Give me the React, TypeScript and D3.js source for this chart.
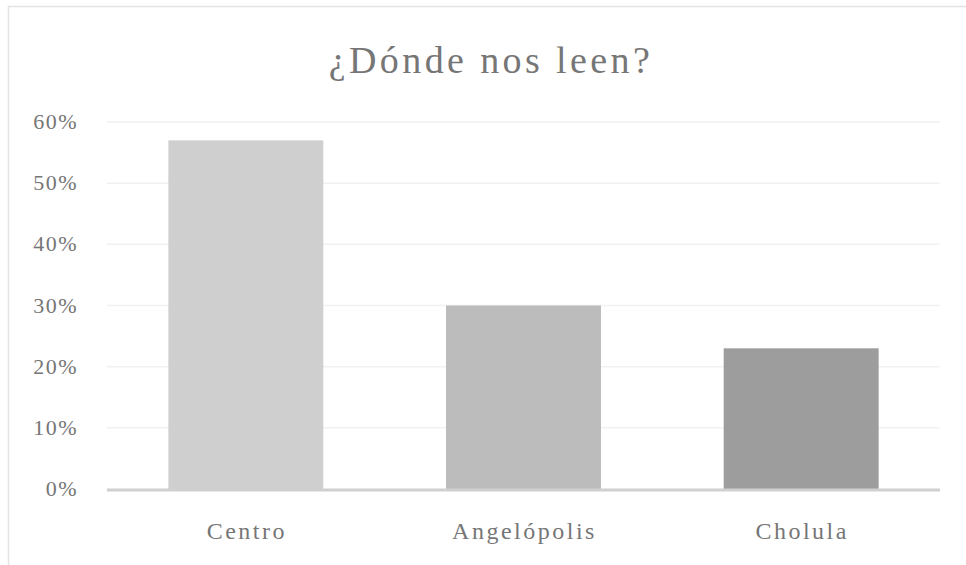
import * as d3 from "d3";
import {useEffect, useRef} from "react";

const WIDTH = 966;
const HEIGHT = 565;
const MARGIN = {top: 122, right: 26, bottom: 76, left: 107};

const TITLE = "¿Dónde nos leen?";
const categories = ["Centro", "Angelópolis", "Cholula"];
const values = [0.57, 0.30, 0.23];
const barColors = ["#cfcfcf", "#bcbcbc", "#9d9d9d"];
const yTicks = [0, 0.1, 0.2, 0.3, 0.4, 0.5, 0.6];

const FONT = "'Liberation Serif', 'DejaVu Serif', serif";
const TEXT_COLOR = "#767676";

const App = () => {
    const ref = useRef<SVGSVGElement>(null);

    useEffect(() => {
        const svg = d3.select(ref.current);
        svg.selectAll("*").remove();

        const x = d3.scaleBand()
            .domain(categories)
            .range([MARGIN.left, WIDTH - MARGIN.right])
            .paddingInner(0.442)
            .paddingOuter(0.221);

        const y = d3.scaleLinear()
            .domain([0, 0.6])
            .range([HEIGHT - MARGIN.bottom, MARGIN.top]);

        // chart frame (only top/left visible in the crop)
        svg.append("rect")
            .attr("x", 8.5)
            .attr("y", 6.5)
            .attr("width", WIDTH + 20)
            .attr("height", HEIGHT + 20)
            .attr("fill", "#fff")
            .attr("stroke", "#e4e4e4")
            .attr("stroke-width", 1.5);

        svg.append("text")
            .attr("x", 491)
            .attr("y", 73)
            .attr("text-anchor", "middle")
            .attr("font-family", FONT)
            .attr("font-size", 38)
            .attr("letter-spacing", 3.4)
            .attr("fill", TEXT_COLOR)
            .text(TITLE);

        // gridlines
        svg.append("g")
            .selectAll("line")
            .data(yTicks.slice(1))
            .join("line")
            .attr("x1", x.range()[0])
            .attr("x2", x.range()[1])
            .attr("y1", d => y(d))
            .attr("y2", d => y(d))
            .attr("stroke", "#f1f1f1")
            .attr("stroke-width", 1.5);

        // y labels
        svg.append("g")
            .selectAll("text")
            .data(yTicks)
            .join("text")
            .attr("x", 78)
            .attr("y", d => y(d) + 7)
            .attr("text-anchor", "end")
            .attr("font-family", FONT)
            .attr("font-size", 22)
            .attr("letter-spacing", 1.5)
            .attr("fill", TEXT_COLOR)
            .text(d => d3.format(".0%")(d));

        // bars
        svg.append("g")
            .selectAll("rect")
            .data(values)
            .join("rect")
            .attr("x", (d, i) => x(categories[i])!)
            .attr("width", x.bandwidth())
            .attr("y", d => y(d))
            .attr("height", d => y(0) - y(d))
            .attr("fill", (d, i) => barColors[i]);

        // x axis line
        svg.append("line")
            .attr("x1", x.range()[0])
            .attr("x2", x.range()[1])
            .attr("y1", y(0) + 1)
            .attr("y2", y(0) + 1)
            .attr("stroke", "#d0d0d0")
            .attr("stroke-width", 3);

        // category labels
        svg.append("g")
            .selectAll("text")
            .data(categories)
            .join("text")
            .attr("x", d => x(d)! + x.bandwidth() / 2 + 1)
            .attr("y", 539)
            .attr("text-anchor", "middle")
            .attr("font-family", FONT)
            .attr("font-size", 24)
            .attr("letter-spacing", 2.5)
            .attr("fill", TEXT_COLOR)
            .text(d => d);
    }, []);

    return (
        <svg ref={ref} width={WIDTH} height={HEIGHT}
             style={{position: "absolute", left: 0, top: 0, background: "#fff"}}/>
    );
};

export default App;
